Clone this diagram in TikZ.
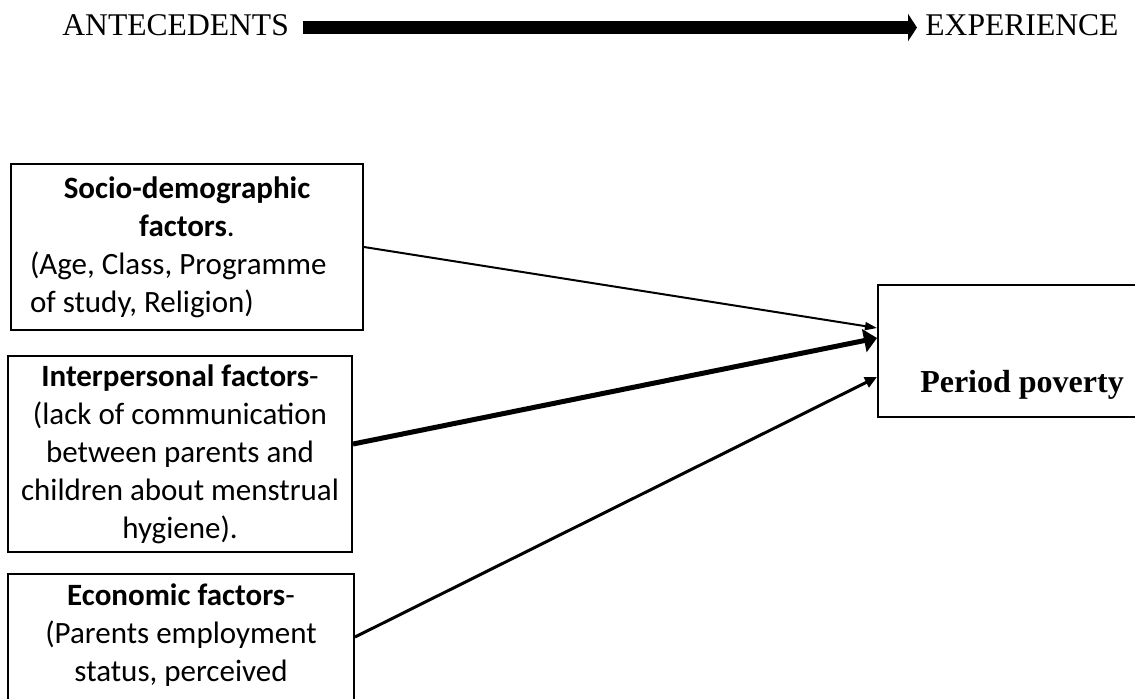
\documentclass[tikz,border=0pt]{standalone}
\usepackage{fontspec}
\setmainfont{Liberation Serif}
\newfontfamily\calibri{Carlito}
\usetikzlibrary{arrows.meta}

\begin{document}
\begin{tikzpicture}[x=0.5pt,y=-0.5pt,
        headline/.style={anchor=base west,font=\fontsize{15.8}{18}\selectfont,text depth=3pt},
        factorbox/.style={draw,line width=1pt,font=\calibri\fontsize{15.5}{19}\selectfont,align=flush center,inner sep=0pt},
        link/.style={line width=1pt,-{Triangle[length=6pt,width=4pt]}}]
    \useasboundingbox (0,0) rectangle (1135,698);
    \clip (0,0) rectangle (1135,698);
    % antecedents -> experience
    \node[headline,inner xsep=7pt] (ante) at (48,35) {ANTECEDENTS};
    \node[headline,inner xsep=4pt] (expe) at (917,35) {EXPERIENCE};
    \draw[line width=6.5pt,-{Triangle[length=4.5pt,width=13.5pt]}] (ante.east) -- (ante.east -| expe.west);
    % factors
    \node[factorbox,align=flush left,minimum width=176pt,minimum height=83pt,text width=157pt] (socio) at (187,247)
        {\makebox[157pt]{\textbf{Socio-demographic}}\\\makebox[157pt]{\textbf{factors}.}\\
         (Age, Class, Programme\\of study, Religion)};
    \node[factorbox,minimum width=172pt,minimum height=98pt,text width=168pt] (inter) at (180,454)
        {\textbf{Interpersonal factors}-\\(lack of communication\\between parents and\\children about menstrual\\hygiene).};
    \node[factorbox,anchor=north,minimum width=173pt,text width=168pt,inner ysep=5pt,text depth=70pt] (econ) at (181,573)
        {\textbf{Economic factors}-\\(Parents employment\\status, perceived};
    % outcome
    \node[draw,line width=1pt,font=\bfseries\fontsize{16}{19}\selectfont,minimum width=144pt,inner sep=0pt,
        text height=53.5pt,text depth=12.5pt] (pov) at (1022,351) {Period poverty};
    \draw[link] (socio.east) -- ([yshift=11.5pt]pov.west);
    \draw[link,line width=2.5pt,-{Triangle[length=6.5pt,width=11.5pt]}] ([yshift=5pt]inter.east) -- ([yshift=6.5pt]pov.west);
    \draw[link,line width=1.5pt,-{Triangle[length=6pt,width=5.5pt]}] ([yshift=-32pt]econ.north east) -- ([yshift=-13pt]pov.west);
\end{tikzpicture}
\end{document}
